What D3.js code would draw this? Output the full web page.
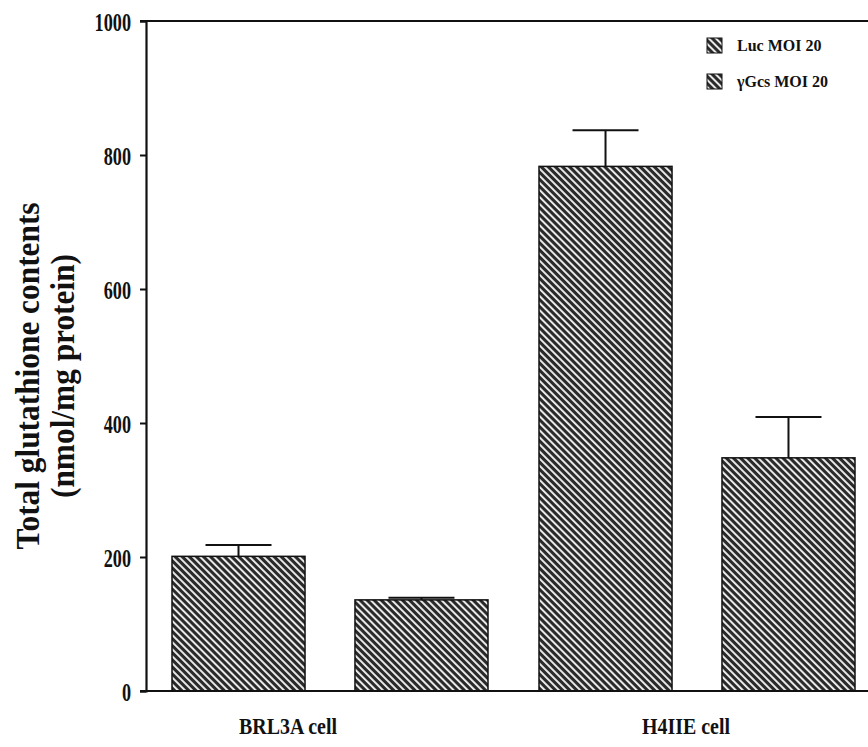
<!DOCTYPE html>
<html>
<head>
<meta charset="utf-8">
<script src="https://cdn.jsdelivr.net/npm/d3@7"></script>
<style>
  body { margin: 0; background: #fff; }
  text { font-family: "Liberation Serif", "Times New Roman", serif; font-weight: bold; fill: #111; }
</style>
</head>
<body>
<div id="wrapper"></div>
<script>
// data
const categories = ["BRL3A cell", "H4IIE cell"]
const seriesNames = ["Luc MOI 20", "\u03B3Gcs MOI 20"]
const lucValues = [201, 783]
const lucErrors = [17, 54]
const gcsValues = [136, 348]
const gcsErrors = [3, 61]
const yTicks = [0, 200, 400, 600, 800, 1000]

function drawChart() {

  // 1. dimensions
  let dimensions = {
    width: 868,
    height: 747,
    margin: { top: 21, right: 0, bottom: 56, left: 146 },
  }
  dimensions.boundedWidth = dimensions.width - dimensions.margin.left - dimensions.margin.right
  dimensions.boundedHeight = dimensions.height - dimensions.margin.top - dimensions.margin.bottom

  // 2. canvas
  const wrapper = d3.select("#wrapper")
    .append("svg")
    .attr("width", dimensions.width)
    .attr("height", dimensions.height)

  // diagonal hatch used by every bar
  const defs = wrapper.append("defs")
  const pat = defs.append("pattern")
    .attr("id", "hatch")
    .attr("patternUnits", "userSpaceOnUse")
    .attr("width", 5)
    .attr("height", 5)
    .attr("patternTransform", "rotate(-45)")
  pat.append("rect").attr("width", 5).attr("height", 5).attr("fill", "#2a2a2a")
  pat.append("rect").attr("width", 1.9).attr("height", 5).attr("fill", "#f2f2f2")

  const bounds = wrapper.append("g")
    .attr("transform", `translate(${dimensions.margin.left},${dimensions.margin.top})`)

  // 3. scales
  const rows = categories.map((c, i) => ({
    category: c,
    bars: [
      { series: 0, value: lucValues[i], err: lucErrors[i] },
      { series: 1, value: gcsValues[i], err: gcsErrors[i] },
    ],
  }))

  const x0 = d3.scaleBand()
    .domain(categories)
    .range([26, 709])
    .paddingInner(0.139)

  const x1 = d3.scaleBand()
    .domain([0, 1])
    .range([0, x0.bandwidth()])
    .paddingInner(0.273)

  const yScale = d3.scaleLinear()
    .domain([0, 1000])
    .range([dimensions.boundedHeight, 0])

  // 4. bars
  const groups = bounds.selectAll(".group")
    .data(rows)
    .enter().append("g")
    .attr("class", "group")
    .attr("transform", d => `translate(${x0(d.category)},0)`)

  groups.selectAll("rect")
    .data(d => d.bars)
    .enter().append("rect")
    .attr("x", d => x1(d.series))
    .attr("y", d => yScale(d.value))
    .attr("width", x1.bandwidth())
    .attr("height", d => yScale(0) - yScale(d.value))
    .attr("fill", "url(#hatch)")
    .attr("stroke", "#111")
    .attr("stroke-width", 1.5)

  // error bars (upper only)
  const capHalf = 33
  const eb = groups.selectAll(".err")
    .data(d => d.bars)
    .enter().append("g")
    .attr("class", "err")
    .attr("stroke", "#111")
    .attr("stroke-width", 2)
  eb.append("line")
    .attr("x1", d => x1(d.series) + x1.bandwidth() / 2)
    .attr("x2", d => x1(d.series) + x1.bandwidth() / 2)
    .attr("y1", d => yScale(d.value))
    .attr("y2", d => yScale(d.value + d.err))
  eb.append("line")
    .attr("x1", d => x1(d.series) + x1.bandwidth() / 2 - capHalf)
    .attr("x2", d => x1(d.series) + x1.bandwidth() / 2 + capHalf)
    .attr("y1", d => yScale(d.value + d.err))
    .attr("y2", d => yScale(d.value + d.err))

  // 5. axes
  const yAxisGen = d3.axisLeft(yScale)
    .tickValues(yTicks)
    .tickFormat(d3.format("d"))
    .tickSize(6)
  const axisY = bounds.append("g").call(yAxisGen)
  axisY.select(".domain").attr("stroke-width", 2.2).attr("stroke", "#111")
  axisY.selectAll(".tick line").attr("stroke-width", 2).attr("stroke", "#111")
  // condensed, tall digits like the original
  axisY.selectAll(".tick text")
    .attr("x", null)
    .attr("transform", "translate(-15,1) scale(0.7,1)")
    .style("font-size", "26px")
    .style("font-family", "Liberation Serif")
    .style("font-weight", "bold")
    .attr("fill", "#111")

  // x axis baseline and top frame
  bounds.append("line")
    .attr("x1", -6).attr("x2", dimensions.boundedWidth)
    .attr("y1", yScale(0)).attr("y2", yScale(0))
    .attr("stroke", "#111").attr("stroke-width", 2.2)
  bounds.append("line")
    .attr("x1", -6).attr("x2", dimensions.boundedWidth)
    .attr("y1", yScale(1000)).attr("y2", yScale(1000))
    .attr("stroke", "#111").attr("stroke-width", 2)

  // category labels
  const labelShift = [-42, -11]
  bounds.selectAll(".cat")
    .data(categories)
    .enter().append("text")
    .attr("class", "cat")
    .attr("transform", (d, i) => `translate(${x0(d) + x0.bandwidth() / 2 + labelShift[i]},${dimensions.boundedHeight + 43}) scale(0.83,1)`)
    .attr("text-anchor", "middle")
    .style("font-size", "24px")
    .text(d => d)

  // y title
  const title = wrapper.append("text")
    .attr("transform", `translate(27,376) rotate(-90) scale(0.95,1)`)
    .attr("text-anchor", "middle")
    .style("font-size", "33px")
  title.append("tspan").attr("x", 0).attr("dy", "0.35em").text("Total glutathione contents")
  title.append("tspan").attr("x", 0).attr("dy", "1.06em").text("(nmol/mg protein)")

  // legend
  const legend = wrapper.append("g")
    .attr("transform", "translate(707,38)")
  const items = legend.selectAll("g")
    .data(seriesNames)
    .enter().append("g")
    .attr("transform", (d, i) => `translate(0,${i * 36})`)
  items.append("rect")
    .attr("width", 15).attr("height", 15)
    .attr("fill", "url(#hatch)")
    .attr("stroke", "#111").attr("stroke-width", 1)
  items.append("text")
    .attr("x", 30).attr("y", 13)
    .style("font-size", "16px")
    .text(d => d)
}
drawChart()
</script>
</body>
</html>
